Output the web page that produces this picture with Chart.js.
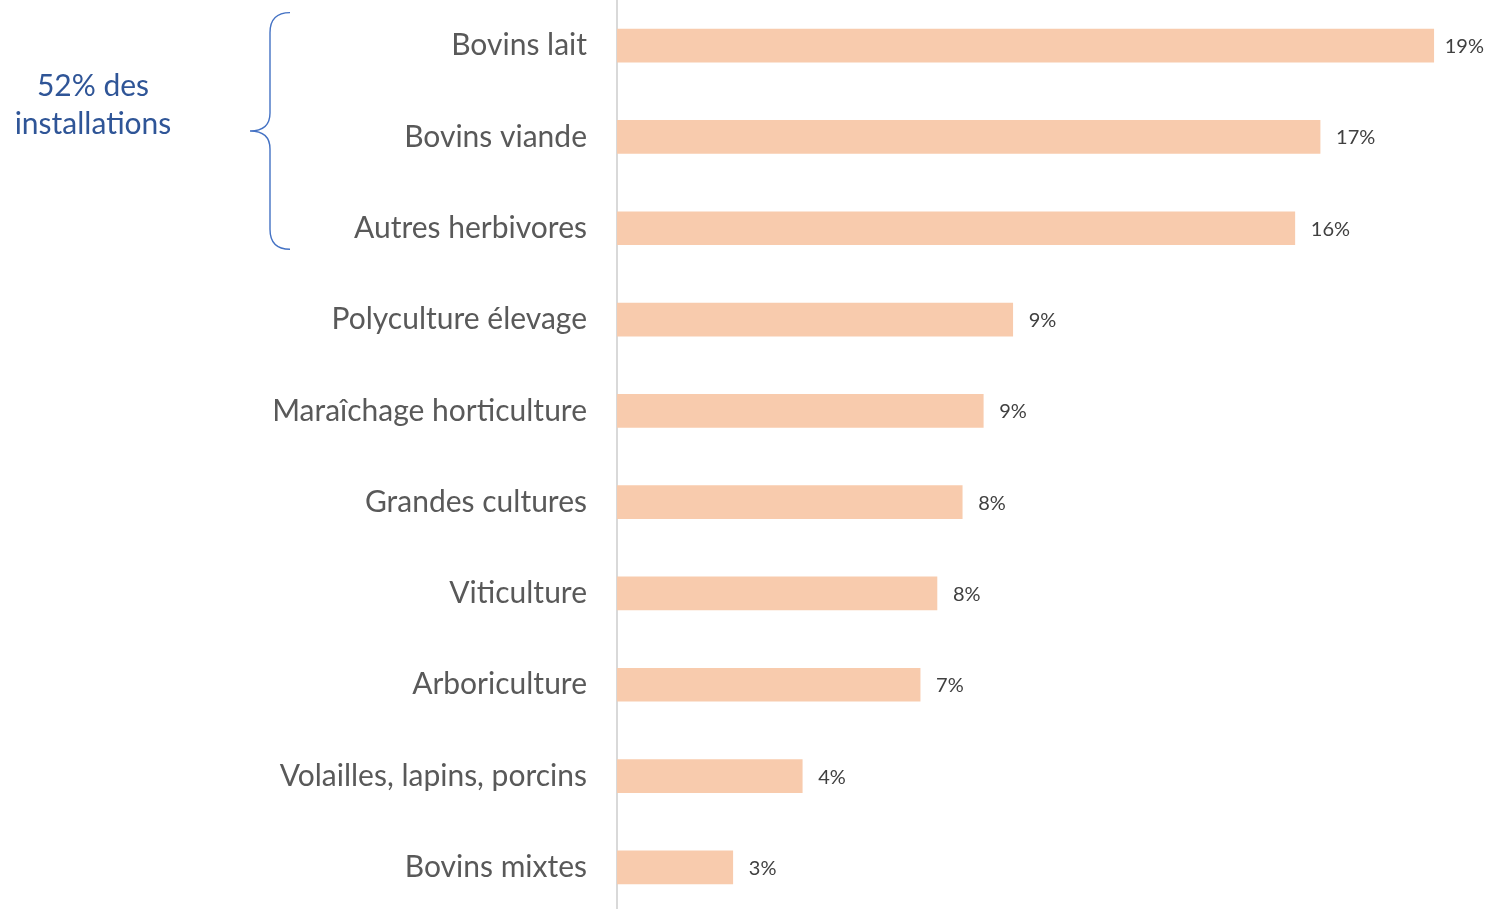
<!DOCTYPE html>
<html>
<head>
<meta charset="utf-8">
<script src="https://cdn.jsdelivr.net/npm/chart.js@4.4.1/dist/chart.umd.min.js"></script>
<style>
  html, body { margin: 0; padding: 0; background: #ffffff; overflow: hidden; }
  #wrap { position: absolute; left: 0; top: 0; width: 1486px; height: 913px; }
</style>
</head>
<body>
<div id="wrap"><canvas id="c" width="1486" height="913"></canvas></div>
<script>
const categories = [
  "Bovins lait",
  "Bovins viande",
  "Autres herbivores",
  "Polyculture élevage",
  "Maraîchage horticulture",
  "Grandes cultures",
  "Viticulture",
  "Arboriculture",
  "Volailles, lapins, porcins",
  "Bovins mixtes"
];
const shares = [19.4, 16.7, 16.1, 9.4, 8.7, 8.2, 7.6, 7.2, 4.4, 2.75];
const braceText = ["52% des", "installations"];
const braceFrom = 0;
const braceTo = 2;

const FONT = "Lato, 'Open Sans', sans-serif";

const valueLabels = {
  id: 'valueLabels',
  afterDatasetsDraw(chart) {
    const ctx = chart.ctx;
    const meta = chart.getDatasetMeta(0);
    ctx.save();
    ctx.font = "20px " + FONT;
    ctx.fillStyle = "#404040";
    ctx.textBaseline = "middle";
    ctx.textAlign = "left";
    meta.data.forEach((bar, i) => {
      const txt = Math.round(shares[i]) + "%";
      const w = ctx.measureText(txt).width;
      let x = bar.x + 16;
      if (x + w > chart.width - 2) x = chart.width - 2 - w;
      ctx.fillText(txt, x, bar.y + 1);
    });
    ctx.restore();
  }
};

const braceNote = {
  id: 'braceNote',
  afterDraw(chart) {
    const ctx = chart.ctx;
    const ys = chart.scales.y;
    const top = ys.getPixelForValue(braceFrom) - 33;
    const bot = ys.getPixelForValue(braceTo) + 21;
    const mid = (top + bot) / 2;
    const xr = 290, xl = 270, xt = 250;
    ctx.save();
    ctx.strokeStyle = "#4472C4";
    ctx.lineWidth = 1.4;
    ctx.beginPath();
    ctx.moveTo(xr, top);
    ctx.quadraticCurveTo(xl, top, xl, top + 20);
    ctx.lineTo(xl, mid - 18);
    ctx.quadraticCurveTo(xl, mid, xt, mid);
    ctx.quadraticCurveTo(xl, mid, xl, mid + 18);
    ctx.lineTo(xl, bot - 20);
    ctx.quadraticCurveTo(xl, bot, xr, bot);
    ctx.stroke();
    ctx.font = "30px " + FONT;
    ctx.fillStyle = "#2F5597";
    ctx.textAlign = "center";
    ctx.textBaseline = "middle";
    ctx.fillText(braceText[0], 93, mid - 45);
    ctx.fillText(braceText[1], 93, mid - 7);
    ctx.restore();
  }
};

new Chart(document.getElementById('c'), {
  type: 'bar',
  data: {
    labels: categories,
    datasets: [{
      data: shares,
      backgroundColor: '#F8CBAD',
      borderWidth: 0,
      barThickness: 33
    }]
  },
  options: {
    indexAxis: 'y',
    responsive: false,
    animation: false,
    layout: { padding: { left: 0, right: 27, top: 0, bottom: 0 } },
    plugins: { legend: { display: false }, tooltip: { enabled: false } },
    scales: {
      x: { display: false, min: 0, max: 20 },
      y: {
        afterFit(scale) {
          scale.width = 617;
          scale.paddingTop = 0;
          scale.paddingBottom = 0;
        },
        grid: { display: false },
        border: { display: true, color: '#D9D9D9', width: 2 },
        ticks: {
          color: '#595959',
          font: { family: FONT, size: 30 },
          padding: 22
        }
      }
    }
  },
  plugins: [valueLabels, braceNote]
});
</script>
</body>
</html>
